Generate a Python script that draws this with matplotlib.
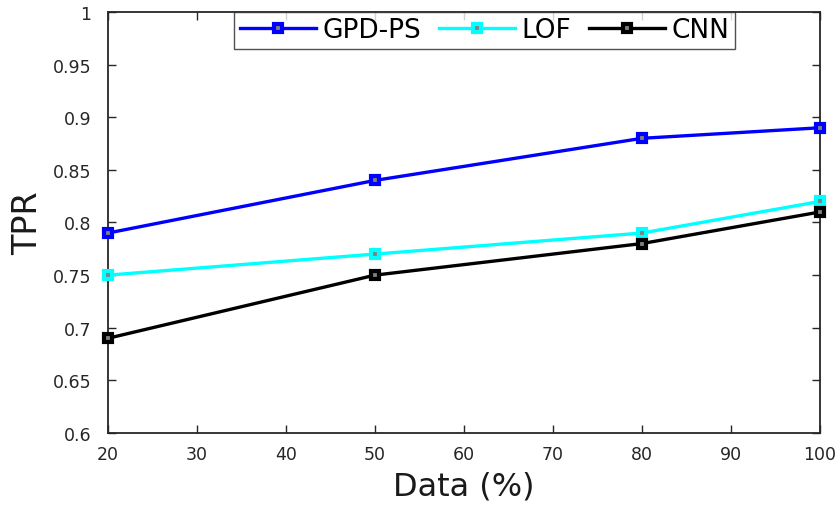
import matplotlib
matplotlib.use("Agg")
import matplotlib.pyplot as plt

x = [20, 50, 80, 100]
gpd_ps = [0.79, 0.84, 0.88, 0.89]
lof = [0.75, 0.77, 0.79, 0.82]
cnn = [0.69, 0.75, 0.78, 0.81]
series = [("GPD-PS", gpd_ps, "#0000ff"), ("LOF", lof, "#00ffff"), ("CNN", cnn, "#000000")]
xticks = [20, 30, 40, 50, 60, 70, 80, 90, 100]
yticks = [0.6, 0.65, 0.7, 0.75, 0.8, 0.85, 0.9, 0.95, 1.0]
yticklabels = ["0.6", "0.65", "0.7", "0.75", "0.8", "0.85", "0.9", "0.95", "1"]

plt.rcParams['font.family'] = ['DejaVu Sans']
fig = plt.figure(figsize=(8.4, 5.06), dpi=100)
ax = fig.add_axes([108/840, 1-434/506, (820-108)/840, (434-13)/506])

for name, vals, c in series:
    ax.plot(x, vals, color=c, lw=2.4, marker='s', markersize=5.4,
            markerfacecolor='#808080', markeredgecolor=c, markeredgewidth=3.0,
            label=name, clip_on=False, zorder=3)

ax.set_xlim(20, 100)
ax.set_ylim(0.6, 1.0)
ax.set_xticks(xticks)
ax.set_yticks(yticks)
ax.set_yticklabels(yticklabels)
ax.tick_params(direction='in', top=True, right=True, labelsize=12.5, length=6,
               width=1.0, colors='#262626')
ax.tick_params(axis='y', pad=12)
ax.tick_params(axis='x', pad=9)
for s in ax.spines.values():
    s.set_linewidth(1.3)
    s.set_color('#262626')
ax.set_xlabel("Data (%)", fontsize=23, color='#1a1a1a', labelpad=5)
ax.set_ylabel("TPR", fontsize=24, color='#1a1a1a', labelpad=6)

leg = ax.legend(loc='upper center', bbox_to_anchor=(0.529, 1.0), ncol=3, fontsize=19,
                frameon=True, fancybox=False, edgecolor='#262626', borderaxespad=0.0,
                handlelength=2.9, columnspacing=0.65, handletextpad=0.25, borderpad=0.2)
leg.get_frame().set_linewidth(1.0)

fig.savefig("out.png", dpi=100)
